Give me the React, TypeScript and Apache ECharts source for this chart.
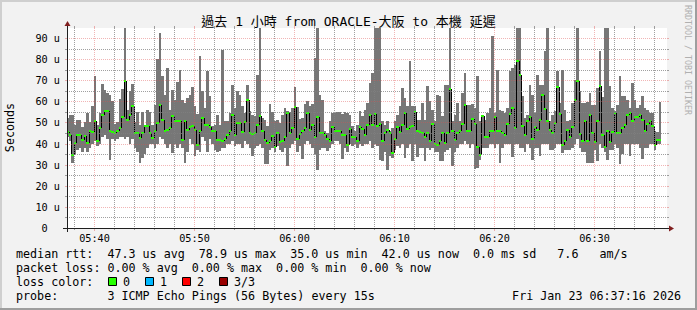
import React, { useEffect, useRef } from "react";
import * as echarts from "echarts";

// ---------- texts ----------
const TITLE = "過去 1 小時 from ORACLE-大阪 to 本機 延遲";
const UNIT_LABEL = "Seconds";
const WATERMARK = "RRDTOOL / TOBI OETIKER";
const DATE_STAMP = "Fri Jan 23 06:37:16 2026";

// ---------- time axis ----------
const AXIS_START = "05:37:20";
const AXIS_END = "06:37:20";
const FIRST_BAR = "05:37:15";
const STEP_SEC = 15;
const Y_MAX = 94.74;

// ---------- data (microseconds) ----------
const maxVals = [
  52, 53.5, 53.7, 49, 51, 51, 48, 50, 54.5, 50,
  58, 72, 49, 54.5, 68.2, 65.5, 64, 63, 60, 49.5,
  50, 61, 66, 94.7, 56, 64.7, 68.2, 50, 55, 49,
  55, 49, 56, 55, 49, 58.4, 80, 92.5, 72, 63,
  76, 56, 65.5, 60.8, 69, 75, 60.8, 59, 61.6, 63,
  67, 57.6, 54, 81.3, 65, 57, 74.2, 62.3, 48.5,
  49, 53.7, 48.9, 84.5, 50.5, 50.5, 54.5, 67.9, 56.8, 64.7,
  63.1, 57.6, 54.5, 67.9, 55.2, 53.4, 52.9, 72.6, 94.7, 52.1,
  51.3, 48.1, 58.7, 54.9, 50.5, 51.3, 49.7, 53.7, 56.8, 55.2,
  54.9, 56.8, 67, 57.1, 51.8, 52.1, 58.7, 60, 57.6, 58.7,
  80.5, 94.7, 63.1, 60.8, 45.8, 45, 50.5, 54.5, 54.5, 54.9,
  54.9, 54, 54.9, 54.5, 53.7, 48.1, 46.1, 48.6, 55.6, 52.9,
  56,
  59.2, 68.7, 73.4, 94.7, 94.7, 94.7, 50.5, 48.9, 50.5, 46.1,
  47.3, 50.5, 53.7, 57.6, 66.3, 61.6, 57.6, 78.9, 57.6, 57.6,
  51.3, 51.3, 59.2, 51.3, 67.1, 60, 56, 50.5, 63.1, 62.3,
  52.9, 67.9, 67.9, 94.7, 50.5, 53.7, 59.2, 50.5, 63.9, 73.4,
  58.4, 58.4, 58.7, 56.8, 71.8, 50.5, 53.7, 51.3, 54.5, 56.8,
  90.8, 54.5, 75, 56, 55.2, 54.5, 56.8, 74.2, 75.8, 77.4,
  94.7, 94.7, 62.3, 52.1, 53.7, 67.9, 63.1, 54.5, 72.6, 67.9,
  67.9, 83.7, 94.7, 50.5, 53.7, 55.6, 74.2, 59.2, 75, 56,
  50.8, 51.3, 59.2, 70.2, 94.7, 64.7, 59.2, 59.2, 59.7, 63.9,
  58.4, 58.4, 66.3, 83.7, 62, 94.7, 94.7, 67.1, 56.8, 55.2,
  58.4, 72, 62.3, 62.3, 60.8, 56.8, 68.7, 60.8, 56.8, 58.4,
  62.3, 56.8, 56, 54.5, 54.5, 45.8, 45.5, 59.7,
];
const medVals = [
  45.5, 44.2, 34.7, 40.2, 44.2, 44.2, 41.8, 43.4, 40.2, 46.1,
  45.5, 50.5, 41.3, 47.3, 53.3, 55.6, 55.6, 45.8, 45.5, 44.8,
  45.8, 47.3, 52.4, 69.5, 51.3, 53.7, 57.6, 45, 45, 42.6,
  45, 48.3, 48.3, 45, 42.6, 45.8, 49.7, 58.4, 51.3, 45.8,
  46.6, 47.3, 52.9, 50.5, 50.5, 50.5, 41.8, 50.5, 46.6, 48,
  48.3, 46.6, 39.5, 45.8, 52, 48.9, 48.9, 48, 45.8,
  46.1, 41.8, 41.8, 41.3, 42.3, 43.9, 46.1, 53.4, 43.9, 49.6,
  49.6, 45.5, 50.2, 60.8, 45, 44.5, 45, 48.9, 52.9, 45.8,
  41.8, 40.2, 41, 43.4, 38.2, 44.8, 40.7, 41.3, 42.9, 54.6,
  45, 47.3, 57.1, 42.3, 44.5, 46.1, 47.3, 54.5, 46.6, 48.9,
  42.9, 52.4, 45, 45, 44.2, 42.3, 41.3, 48, 46.1, 46.1,
  46.1, 44.2, 44.2, 39.1, 47, 42.9, 42.9, 41.3, 47.7, 47,
  44,
  48.9, 53.7, 48.9, 54, 48.1, 49.2, 41, 45, 46.6, 45,
  35.5, 42.3, 47.7, 45.5, 48.9, 54.5, 47, 47.7, 48.1, 54.9,
  45.8, 45.5, 45, 42.9, 45, 41, 49.2, 39.8, 39.5, 41.3,
  45, 40.2, 45, 66, 45.8, 41.8, 45, 45.8, 49.2, 58.1,
  45.8, 46.1, 51.8, 49.2, 38.2, 34.7, 52.9, 42.9, 42.9, 45.8,
  46.1, 52.4, 46.1, 45.8, 45, 44.2, 49.2, 54, 56.8, 47.3,
  78.9, 72.3, 48.1, 44.2, 50.8, 52.4, 42.3, 47.7, 46.6, 51.3,
  62.8, 56.5, 50.5, 46.6, 45, 49.7, 66.6, 54, 39.5, 41.3,
  46.6, 42.9, 47.7, 60.8, 69.5, 44.5, 41.3, 50.8, 41, 53.4,
  44.8, 40.7, 50.5, 67.1, 44.2, 38.2, 45.8, 40.7, 45.5, 54.5,
  45, 45, 47.3, 48.9, 53.7, 54.5, 50.5, 52.4, 52.4, 53.7,
  51.3, 45.8, 49.2, 50.8, 48.1, 39.5, 41.8, 41.8,
];
const minVals = [
  43, 41, 31, 35, 37, 38, 36, 38, 36, 38,
  40, 41, 39, 40, 43, 44, 42, 32.4, 42, 41,
  42, 43, 43, 42, 43, 40, 42, 38, 36, 31,
  33, 35, 38, 40, 40, 38, 40, 43, 42, 40,
  38, 40, 35.5, 40, 38, 40, 38, 31, 36, 42,
  40, 34, 37, 36, 43, 41, 36, 42, 40,
  37, 36, 36.6, 38, 38, 40, 40, 41, 39, 40,
  40, 38, 41, 40, 38, 34, 38, 39, 40, 38,
  30.5, 30.3, 37, 38, 36, 39, 37, 36, 38, 29.2,
  38, 40, 41, 36, 39, 32.7, 40, 41, 40, 38,
  35, 27.6, 37, 38, 38, 36.3, 38, 40, 41, 41,
  40, 32.7, 38, 36, 40, 39, 40, 38, 40, 39,
  40,
  40, 41, 38, 40, 39, 32, 31.9, 36, 27.6, 34,
  33.1, 37, 39, 38, 40, 33, 38, 40, 31.6, 40,
  33.5, 38, 38, 31.6, 38, 37, 38, 36, 36, 31.6,
  31.6, 36, 37, 38, 29.2, 36, 38, 40, 40, 41,
  40, 38, 40, 28, 28.4, 32, 38, 38, 38, 40,
  40, 38, 40, 31, 38, 40, 40, 40, 33.5, 40,
  40, 38, 38, 36, 40, 38, 32.3, 38, 38, 33.9,
  40, 40, 40, 37, 37, 38, 40, 40, 35.5, 37,
  37, 37, 38, 40, 42, 38, 36, 36, 31, 30.8,
  30.8, 37, 31.6, 40, 38, 36, 32, 37, 37, 40,
  38, 30.5, 35, 40, 40, 33.9, 40, 40, 40, 38,
  32.7, 38, 38, 40, 40, 37.1, 40, 40,
];

// ---------- ticks ----------
const yMajor = [0, 10, 20, 30, 40, 50, 60, 70, 80, 90];
const yMinor = [5, 15, 25, 35, 45, 55, 65, 75, 85];
const xMajor = ["05:40", "05:50", "06:00", "06:10", "06:20", "06:30"];
const xMinor = [
  "05:38", "05:42", "05:44", "05:46", "05:48", "05:52", "05:54", "05:56", "05:58",
  "06:02", "06:04", "06:06", "06:08", "06:12", "06:14", "06:16", "06:18",
  "06:22", "06:24", "06:26", "06:28", "06:32", "06:34", "06:36",
];

// ---------- legend ----------
const legendLines = [
  ["median rtt:", "47.3 us avg", "78.9 us max", "35.0 us min", "42.0 us now", "0.0 ms sd", "7.6", "am/s"],
  ["packet loss:", "0.00 % avg", "0.00 % max", "0.00 % min", "0.00 % now"],
  ["loss color:"],
  ["probe:", "3 ICMP Echo Pings (56 Bytes) every 15s"],
];
const lossLabels = ["0", "1", "2", "3/3"];
const lossColors = ["#26ff00", "#00b8ff", "#ff0000", "#990000"];

// ---------- layout (legend text columns in a monospace grid) ----------
const CHAR_W = 7.03;
const LEGEND_LEFT = 16;
const LEGEND_COLS = [
  [0, 13, 26, 39, 52, 65, 77, 83],
  [0, 13, 25, 37, 49],
  [0],
  [0, 13],
];
const LEGEND_Y = [254, 268, 282, 296];
const LOSS_BOX_X = [108, 145, 182, 219];
const LOSS_LABEL_X = [123, 160, 197, 234];

const MONO = '"DejaVu Sans Mono", "Noto Sans CJK TC", monospace';
const GRID_COLOR = "rgba(128,128,128,0.75)";
const MGRID_COLOR = "rgba(222,79,79,0.42)";
const AXIS_COLOR = "#1f1f1f";
const ARROW_COLOR = "#801f1f";

const G = { left: 67, top: 28, width: 600, height: 200 };

const hms = (s: string) => {
  const p = s.split(":").map(Number);
  return p[0] * 3600 + p[1] * 60 + (p[2] || 0);
};

function txt(text: string, x: number, y: number, size: number, align = "left", extra: any = {}) {
  const { fill, ...rest } = extra;
  return {
    type: "text",
    x,
    y,
    silent: true,
    ...rest,
    style: {
      text,
      x: 0,
      y: 0,
      fill: fill || "#000",
      font: `${size}px ${MONO}`,
      align,
      verticalAlign: "middle",
      textAlign: align,
      textVerticalAlign: "middle",
    },
  };
}

export default function App() {
  const ref = useRef<HTMLDivElement>(null);

  useEffect(() => {
    if (!ref.current) return;
    const chart = echarts.init(ref.current, null, { renderer: "svg" });
    const xMin = hms(AXIS_START);
    const xMax = hms(AXIS_END);
    const t0 = hms(FIRST_BAR);

    const barData = maxVals.map((mx, i) => [
      t0 + i * STEP_SEC,
      minVals[i],
      mx,
      medVals[i],
      i > 0 ? medVals[i - 1] : medVals[i],
    ]);

    const vTicks = [
      ...xMinor.map((s) => ({ sec: hms(s), major: false, label: "" })),
      ...xMajor.map((s) => ({ sec: hms(s), major: true, label: s })),
    ];
    const hTicks = [
      ...yMinor.map((v) => ({ val: v, major: false })),
      ...yMajor.map((v) => ({ val: v, major: true })),
    ];

    const smoke = {
      type: "custom",
      z: 2,
      silent: true,
      clip: true,
      data: barData,
      encode: { x: 0, y: [1, 2] },
      renderItem: (_p: any, api: any) => {
        const ts = api.value(0);
        const a = api.coord([ts, api.value(1)]);
        const b = api.coord([ts + STEP_SEC, api.value(2)]);
        const x0 = Math.round(a[0]);
        const x1 = Math.round(b[0]);
        const y0 = Math.round(a[1]);
        const y1 = Math.round(b[1]);
        return {
          type: "rect",
          shape: { x: x0, y: y1, width: x1 - x0, height: y0 - y1 },
          style: { fill: "#777777" },
        };
      },
    };

    const median = {
      type: "custom",
      z: 3,
      silent: true,
      clip: true,
      data: barData,
      encode: { x: 0, y: 3 },
      renderItem: (_p: any, api: any) => {
        const ts = api.value(0);
        const a = api.coord([ts, api.value(3)]);
        const b = api.coord([ts + STEP_SEC, api.value(3)]);
        const p = api.coord([ts, api.value(4)]);
        const x0 = Math.round(a[0]);
        const x1 = Math.round(b[0]);
        const ym = Math.round(a[1]);
        const yp = Math.round(p[1]);
        return {
          type: "group",
          children: [
            {
              type: "line",
              shape: { x1: x0 + 0.5, y1: yp, x2: x0 + 0.5, y2: ym },
              style: { stroke: "#000", lineWidth: 1 },
            },
            {
              type: "rect",
              shape: { x: x0, y: ym - 1, width: x1 - x0, height: 2 },
              style: { fill: "#26ff00" },
            },
          ],
        };
      },
    };

    const vGrid = {
      type: "custom",
      z: 4,
      silent: true,
      clip: false,
      data: vTicks.map((t) => [t.sec, 0]),
      encode: { x: 0, y: 1 },
      renderItem: (params: any, api: any) => {
        const tk = vTicks[params.dataIndex];
        const cs = params.coordSys;
        const x = Math.round(api.coord([api.value(0), 0])[0]) + 0.5;
        const top = cs.y;
        const bot = cs.y + cs.height;
        const col = tk.major ? MGRID_COLOR : GRID_COLOR;
        const children: any[] = [
          {
            type: "line",
            shape: { x1: x, y1: top, x2: x, y2: bot },
            style: { stroke: col, lineWidth: 1, lineDash: [1, 1] },
          },
          {
            type: "line",
            shape: { x1: x, y1: top - 2, x2: x, y2: top },
            style: { stroke: col, lineWidth: 1 },
          },
          {
            type: "line",
            shape: { x1: x, y1: bot, x2: x, y2: bot + (tk.major ? 3 : 2) },
            style: { stroke: col, lineWidth: 1 },
          },
        ];
        if (tk.major) {
          children.push({
            type: "text",
            style: {
              text: tk.label,
              x,
              y: bot + 10,
              fill: "#000",
              font: `10.2px ${MONO}`,
              align: "center",
              verticalAlign: "middle",
              textAlign: "center",
              textVerticalAlign: "middle",
            },
          });
        }
        return { type: "group", children };
      },
    };

    const hGrid = {
      type: "custom",
      z: 4,
      silent: true,
      clip: false,
      data: hTicks.map((t) => [xMin, t.val]),
      encode: { x: 0, y: 1 },
      renderItem: (params: any, api: any) => {
        const tk = hTicks[params.dataIndex];
        const cs = params.coordSys;
        const y = Math.round(api.coord([xMin, api.value(1)])[1]) + 0.5;
        const left = cs.x;
        const right = cs.x + cs.width;
        const col = tk.major ? MGRID_COLOR : GRID_COLOR;
        const children: any[] = [];
        if (tk.val > 0) {
          children.push({
            type: "line",
            shape: { x1: left, y1: y, x2: right, y2: y },
            style: { stroke: col, lineWidth: 1, lineDash: [1, 1] },
          });
        }
        children.push(
          {
            type: "line",
            shape: { x1: left - 2, y1: y, x2: left, y2: y },
            style: { stroke: col, lineWidth: 1 },
          },
          {
            type: "line",
            shape: { x1: right, y1: y, x2: right + 2, y2: y },
            style: { stroke: col, lineWidth: 1 },
          }
        );
        if (tk.major) {
          const label = tk.val === 0 ? "0" : `${tk.val} u`;
          const shift = tk.val === 0 ? 12.3 : 0;
          children.push({
            type: "text",
            style: {
              text: label,
              x: left - 7 - shift,
              y: y,
              fill: "#000",
              font: `10.2px ${MONO}`,
              align: "right",
              verticalAlign: "middle",
              textAlign: "right",
              textVerticalAlign: "middle",
            },
          });
        }
        return { type: "group", children };
      },
    };

    const X0 = G.left;
    const X1 = G.left + G.width;
    const Y0 = G.top + G.height;
    const Y1 = G.top;

    const elements: any[] = [
      // frame shading
      { type: "rect", shape: { x: 0, y: 0, width: 697, height: 2 }, style: { fill: "#cfcfcf" }, silent: true },
      { type: "rect", shape: { x: 0, y: 0, width: 2, height: 310 }, style: { fill: "#cfcfcf" }, silent: true },
      { type: "rect", shape: { x: 0, y: 308, width: 697, height: 2 }, style: { fill: "#9e9e9e" }, silent: true },
      { type: "rect", shape: { x: 695, y: 0, width: 2, height: 310 }, style: { fill: "#9e9e9e" }, silent: true },
      // axes
      {
        type: "line",
        silent: true,
        z: 10,
        shape: { x1: X0 - 4, y1: Y0 + 0.5, x2: X1 + 4, y2: Y0 + 0.5 },
        style: { stroke: AXIS_COLOR, lineWidth: 1 },
      },
      {
        type: "line",
        silent: true,
        z: 10,
        shape: { x1: X0 + 0.5, y1: Y0 + 4, x2: X0 + 0.5, y2: Y1 - 4 },
        style: { stroke: AXIS_COLOR, lineWidth: 1 },
      },
      {
        type: "polygon",
        silent: true,
        z: 10,
        shape: { points: [[X1 + 2, Y0 + 0.5 - 3], [X1 + 2, Y0 + 0.5 + 3], [X1 + 7, Y0 + 0.5]] },
        style: { fill: ARROW_COLOR },
      },
      {
        type: "polygon",
        silent: true,
        z: 10,
        shape: { points: [[X0 + 0.5 - 3, Y1 - 2], [X0 + 0.5 + 3, Y1 - 2], [X0 + 0.5, Y1 - 7]] },
        style: { fill: ARROW_COLOR },
      },
      // title, unit, watermark
      txt(TITLE, 348.5, 21, 13, "center"),
      txt(UNIT_LABEL, 10, 127.5, 11.7, "center", { rotation: Math.PI / 2 }),
      txt(WATERMARK, 688, 60, 8.3, "center", { rotation: -Math.PI / 2, fill: "#b0b0b0" }),
    ];

    legendLines.forEach((row, r) => {
      row.forEach((s, k) => {
        elements.push(txt(s, LEGEND_LEFT + CHAR_W * LEGEND_COLS[r][k], LEGEND_Y[r], 11.7, "left"));
      });
    });
    lossLabels.forEach((lab, k) => {
      elements.push({
        type: "rect",
        silent: true,
        shape: { x: LOSS_BOX_X[k] + 0.5, y: LEGEND_Y[2] - 4.5, width: 8, height: 8 },
        style: { fill: lossColors[k], stroke: "#000", lineWidth: 1 },
      });
      elements.push(txt(lab, LOSS_LABEL_X[k], LEGEND_Y[2], 11.7, "left"));
    });
    elements.push(txt(DATE_STAMP, 681, LEGEND_Y[3], 11.7, "right"));

    chart.setOption({
      animation: false,
      backgroundColor: "#f2f2f2",
      grid: { ...G, show: true, backgroundColor: "#ffffff", borderWidth: 0 },
      xAxis: { type: "value", min: xMin, max: xMax, show: false },
      yAxis: { type: "value", min: 0, max: Y_MAX, show: false },
      series: [smoke, median, vGrid, hGrid],
      graphic: { elements },
    });

    return () => chart.dispose();
  }, []);

  return (
    <div
      ref={ref}
      style={{ position: "absolute", left: 0, top: 0, width: 697, height: 310 }}
    />
  );
}
